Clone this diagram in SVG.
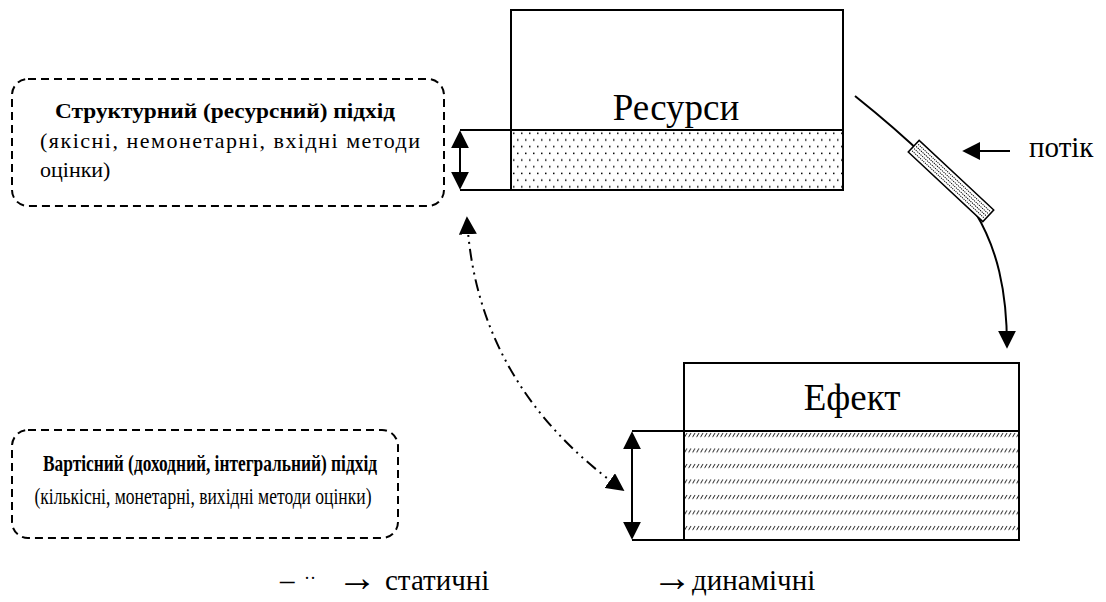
<svg xmlns="http://www.w3.org/2000/svg" width="1106" height="602" viewBox="0 0 1106 602">
<style>
  .t { font-family: 'Liberation Serif', 'Times New Roman', 'DejaVu Serif', serif; fill: #000; }
  .box { fill: none; stroke: #000; stroke-width: 2; }
  .dash { fill: none; stroke: #000; stroke-width: 2; stroke-dasharray: 8 5; }
  .ln { fill: none; stroke: #000; stroke-width: 2; }
  .big { font-size: 37px; }
  .bold { font-size: 22px; font-weight: bold; }
  .reg { font-size: 22px; }
  .bold2 { font-size: 24px; font-weight: bold; }
  .reg2 { font-size: 24px; }
  .leg { font-size: 29px; }
  .arr { font-size: 40px; }
</style>
<defs>
  <marker id="ahb" viewBox="0 0 10 10" refX="9" refY="5" markerWidth="18" markerHeight="18" markerUnits="userSpaceOnUse" orient="auto-start-reverse">
    <path d="M0,0 L10,5 L0,10 z" fill="#000"/>
  </marker>
  <pattern id="dots" patternUnits="userSpaceOnUse" x="511" y="130" width="8" height="13.4">
    <rect x="2" y="2.5" width="1.5" height="1.5" fill="#000"/>
    <rect x="6" y="9.2" width="1.5" height="1.5" fill="#000"/>
  </pattern>
  <pattern id="hatch" patternUnits="userSpaceOnUse" x="684" y="431" width="4" height="15.5">
    <line x1="0.6" y1="6" x2="3" y2="2" stroke="#000" stroke-width="0.9"/>
  </pattern>
</defs>

<g id="resources">
  <rect x="511" y="10" width="332" height="180" class="box"/>
  <rect x="512" y="131" width="330" height="58" fill="url(#dots)"/>
  <line x1="460" y1="130" x2="843" y2="130" class="ln"/>
  <line x1="460" y1="190" x2="511" y2="190" class="ln"/>
  <text x="676" y="120" class="t big" text-anchor="middle">Ресурси</text>
</g>

<g id="effect">
  <rect x="684" y="363" width="335" height="177" class="box"/>
  <rect x="685" y="432" width="333" height="107" fill="url(#hatch)"/>
  <line x1="632" y1="431" x2="1019" y2="431" class="ln"/>
  <line x1="632" y1="540" x2="684" y2="540" class="ln"/>
  <text x="852" y="410" class="t big" text-anchor="middle">Ефект</text>
</g>

<g id="structural">
  <rect x="12" y="79" width="432" height="127" rx="16" ry="16" class="dash"/>
  <text x="225" y="118" class="t bold" text-anchor="middle" textLength="340" lengthAdjust="spacingAndGlyphs">Структурний (ресурсний) підхід</text>
  <text x="40" y="148" class="t reg" textLength="380" lengthAdjust="spacing">(якісні, немонетарні, вхідні методи</text>
  <text x="40" y="177" class="t reg">оцінки)</text>
</g>

<g id="value">
  <rect x="12" y="430" width="386" height="108" rx="16" ry="16" class="dash"/>
  <text x="210" y="471" class="t bold2" text-anchor="middle" textLength="334" lengthAdjust="spacingAndGlyphs">Вартісний (доходний, інтегральний) підхід</text>
  <text x="203" y="504" class="t reg2" text-anchor="middle" textLength="337" lengthAdjust="spacingAndGlyphs">(кількісні, монетарні, вихідні методи оцінки)</text>
</g>

<g id="flow-label">
  <text x="1029" y="157" class="t leg">потік</text>
</g>

<g id="connectors">
  <line x1="460" y1="132" x2="460" y2="188" class="ln" marker-start="url(#ahb)" marker-end="url(#ahb)"/>
  <line x1="632" y1="433" x2="632" y2="538" class="ln" marker-start="url(#ahb)" marker-end="url(#ahb)"/>
  <path d="M467,218 Q476,385 623,490" class="ln" stroke-dasharray="12 5 2 5 2 5" marker-start="url(#ahb)" marker-end="url(#ahb)"/>
  <path d="M855,96 C895,128 945,172 975,212 C997,248 1007,290 1007,347" class="ln" marker-end="url(#ahb)"/>
  <line x1="1010" y1="151" x2="964" y2="151" class="ln" marker-end="url(#ahb)"/>
  <g transform="translate(951,181) rotate(43)">
    <rect x="-51" y="-8" width="102" height="16" fill="#fff" stroke="#000" stroke-width="1.5"/>
    <g stroke="#000" stroke-width="1" stroke-dasharray="1.2 1">
      <line x1="-49" y1="-4.5" x2="49" y2="-4.5"/>
      <line x1="-49" y1="-1.5" x2="49" y2="-1.5"/>
      <line x1="-49" y1="1.5" x2="49" y2="1.5"/>
      <line x1="-49" y1="4.5" x2="49" y2="4.5"/>
    </g>
  </g>
</g>

<g id="legend">
  <text x="280" y="590" class="t leg">–</text>
  <text x="304" y="584" class="t" font-size="18">··</text>
  <text x="337" y="591" class="t arr">→</text>
  <text x="385" y="590" class="t leg">статичні</text>
  <text x="652" y="591" class="t arr">→</text>
  <text x="692" y="590" class="t leg">динамічні</text>
</g>
</svg>
